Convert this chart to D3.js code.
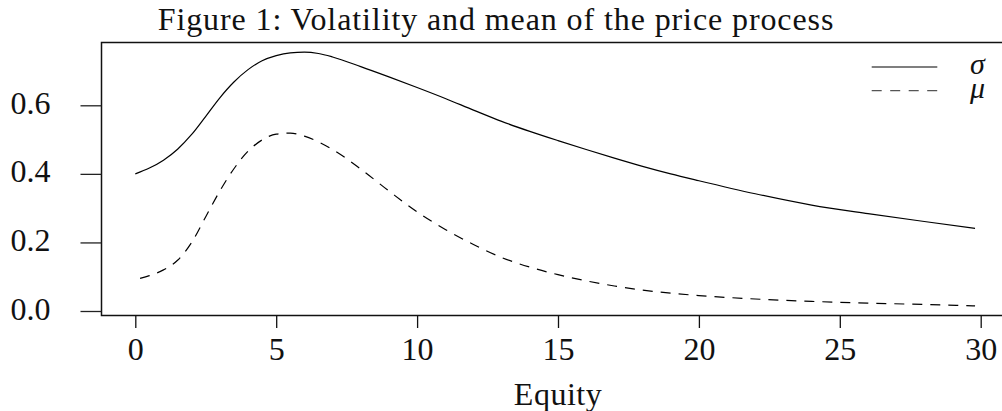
<!DOCTYPE html>
<html>
<head>
<meta charset="utf-8">
<script src="https://cdn.jsdelivr.net/npm/d3@7"></script>
<style>
  html, body { margin: 0; padding: 0; background: #fff; }
  svg text { font-family: "Liberation Serif", "DejaVu Serif", serif; fill: #111; }
</style>
</head>
<body>
<div id="chart"></div>
<script>
// values
const sigmaEquity = [0, 0.5, 1, 1.5, 2, 2.5, 3, 3.5, 4, 4.5, 5, 5.5, 6, 6.5, 7, 8, 9, 10, 11, 12, 13, 14, 15, 16, 17, 18, 19, 20, 22, 24, 26, 28, 29.8]
const sigmaValues = [0.400, 0.417, 0.440, 0.472, 0.515, 0.568, 0.622, 0.668, 0.704, 0.730, 0.745, 0.753, 0.755, 0.751, 0.741, 0.713, 0.683, 0.652, 0.620, 0.586, 0.553, 0.524, 0.497, 0.471, 0.446, 0.422, 0.400, 0.380, 0.342, 0.309, 0.284, 0.261, 0.241]

const muEquity = [0.17, 0.5, 1, 1.5, 2, 2.5, 3, 3.5, 4, 4.5, 5, 5.5, 6, 7, 8, 9, 10, 11, 12, 13, 14, 15, 16, 17, 18, 19, 20, 22, 24, 26, 28, 29.8]
const muValues = [0.095, 0.103, 0.120, 0.148, 0.200, 0.275, 0.350, 0.415, 0.466, 0.499, 0.516, 0.519, 0.510, 0.471, 0.414, 0.350, 0.289, 0.238, 0.194, 0.156, 0.128, 0.106, 0.088, 0.073, 0.061, 0.052, 0.045, 0.035, 0.028, 0.023, 0.019, 0.015]

const xTicks = [0, 5, 10, 15, 20, 25, 30]
const yTicks = [0.0, 0.2, 0.4, 0.6]
const legendLabels = ["σ", "μ"]

const width = 1002, height = 411

const svg = d3.select("#chart")
    .append("svg")
    .attr("width", width)
    .attr("height", height)

// scales
const x = d3.scaleLinear()
    .domain([0, 30])
    .range([135.3, 980.7])
const y = d3.scaleLinear()
    .domain([0, 0.6])
    .range([311, 105.3])

// plot box (right side runs off the page like the original)
svg.append("path")
    .attr("d", "M1010,42.5 H101.5 V315.5 H1010")
    .attr("fill", "none")
    .attr("stroke", "#111")
    .attr("stroke-width", 1.5)

// x axis
const xAxis = svg.append("g")
    .attr("transform", "translate(0,316)")
    .call(d3.axisBottom(x).tickValues(xTicks).tickSize(12).tickFormat(d3.format("d")))
xAxis.select(".domain").remove()
xAxis.selectAll(".tick line").attr("stroke", "#111").attr("stroke-width", 1.3)
xAxis.selectAll(".tick text")
    .attr("font-size", 32)
    .attr("dy", null)
    .attr("y", 44)

// y axis
const yAxis = svg.append("g")
    .attr("transform", "translate(101.5,0)")
    .call(d3.axisLeft(y).tickValues(yTicks).tickSize(21).tickFormat(d3.format(".1f")))
yAxis.select(".domain").remove()
yAxis.selectAll(".tick line").attr("stroke", "#222").attr("stroke-width", 1.3)
yAxis.selectAll(".tick text")
    .attr("font-size", 32)
    .attr("dy", null)
    .attr("y", 8)
    .attr("x", -51)

// title and axis label
svg.append("text")
    .attr("x", 496)
    .attr("y", 30)
    .attr("text-anchor", "middle")
    .attr("font-size", 32)
    .attr("letter-spacing", 0.9)
    .text("Figure 1: Volatility and mean of the price process")

svg.append("text")
    .attr("x", 558)
    .attr("y", 405)
    .attr("text-anchor", "middle")
    .attr("font-size", 32)
    .attr("letter-spacing", 0.5)
    .text("Equity")

// lines
const line = d3.line()
    .x(d => x(d[0]))
    .y(d => y(d[1]))
    .curve(d3.curveMonotoneX)

svg.append("path")
    .datum(d3.zip(sigmaEquity, sigmaValues))
    .attr("d", line)
    .attr("fill", "none")
    .attr("stroke", "#000")
    .attr("stroke-width", 1.2)

svg.append("path")
    .datum(d3.zip(muEquity, muValues))
    .attr("d", line)
    .attr("fill", "none")
    .attr("stroke", "#000")
    .attr("stroke-width", 1.2)
    .attr("stroke-dasharray", "10,8")

// legend
const legend = svg.append("g")
legendLabels.forEach((lab, i) => {
    const ly = 67 + i * 23.7
    legend.append("line")
        .attr("x1", 871.7).attr("x2", 937.3)
        .attr("y1", ly).attr("y2", ly)
        .attr("stroke", i === 0 ? "#000" : "#555")
        .attr("stroke-width", 1.2)
        .attr("stroke-dasharray", i === 0 ? null : "10,8.5")
    legend.append("text")
        .attr("x", 970)
        .attr("y", ly + 7)
        .attr("font-size", 30)
        .attr("font-style", "italic")
        .text(lab)
})
</script>
</body>
</html>
